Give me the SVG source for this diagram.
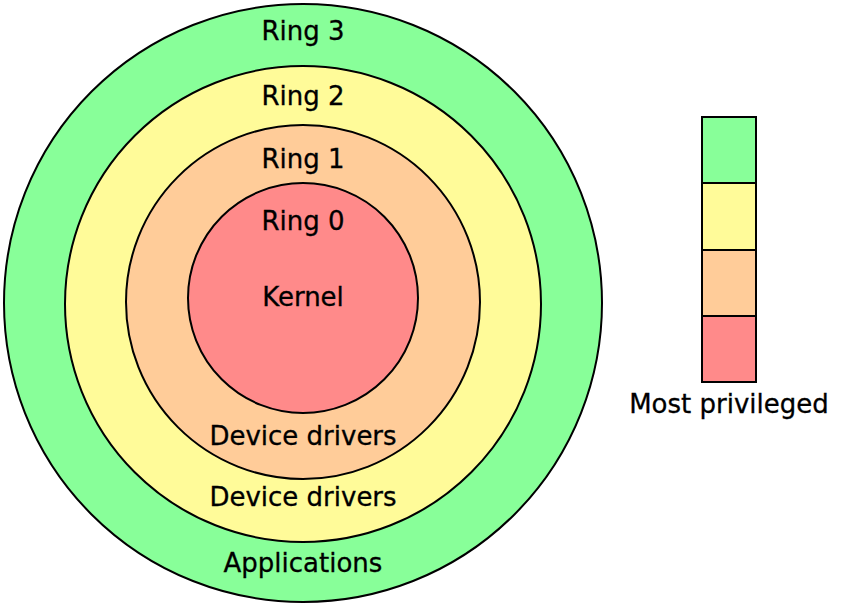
<svg xmlns="http://www.w3.org/2000/svg" width="843" height="610" viewBox="0 0 843 610">
<style>
.c{stroke:#000;stroke-width:2}
text{font-family:"DejaVu Sans",sans-serif;font-size:26px;text-anchor:middle;fill:#000;stroke:#000;stroke-width:0.3}
.g{fill:#88ff99}.y{fill:#fffb99}.o{fill:#ffcc99}.r{fill:#ff8a8a}
</style>
<rect width="843" height="610" fill="#fff"/>
<g id="ring3"><circle class="c g" cx="303" cy="303" r="299"/><text x="303" y="40">Ring 3</text><text x="303" y="572">Applications</text></g>
<g id="ring2"><circle class="c y" cx="303" cy="304" r="238"/><text x="303" y="105">Ring 2</text><text x="303" y="506">Device drivers</text></g>
<g id="ring1"><circle class="c o" cx="303" cy="302" r="177"/><text x="303" y="168">Ring 1</text><text x="303" y="445">Device drivers</text></g>
<g id="ring0"><circle class="c r" cx="303" cy="298" r="115"/><text x="303" y="230">Ring 0</text><text x="303" y="306">Kernel</text></g>
<g id="legend">
<rect class="c g" x="702" y="117" width="54" height="66"/>
<rect class="c y" x="702" y="183" width="54" height="67"/>
<rect class="c o" x="702" y="250" width="54" height="66"/>
<rect class="c r" x="702" y="316" width="54" height="66"/>
<text x="729" y="413">Most privileged</text>
</g>
</svg>
